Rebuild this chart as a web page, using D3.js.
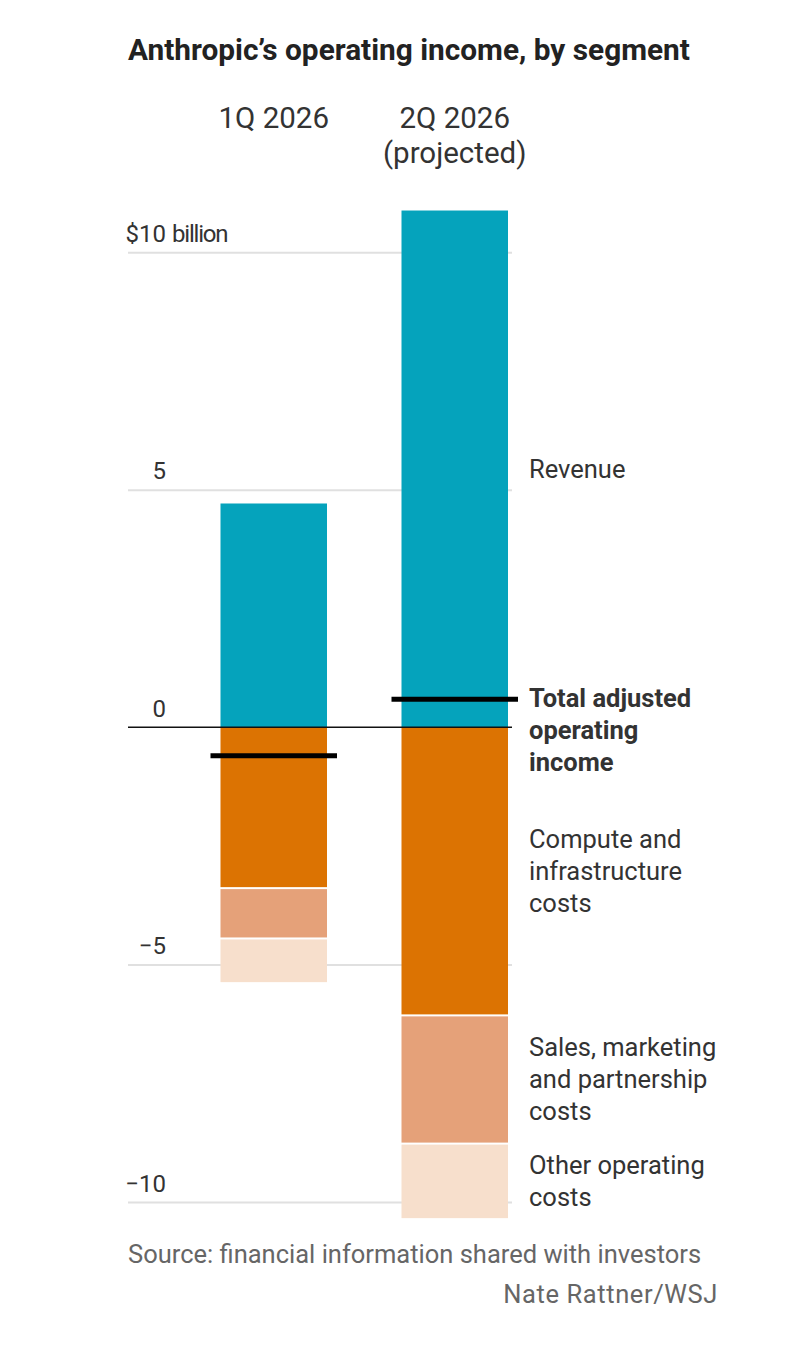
<!DOCTYPE html>
<html>
<head>
<meta charset="utf-8">
<script src="https://cdn.jsdelivr.net/npm/d3@7"></script>
<style>
    body { margin: 0; background: #fff; }
    text { font-family: Roboto, "Noto Sans", sans-serif; fill: #333; }
</style>
</head>
<body>
<script>
// values in $ billions
let quarters = ["1Q 2026", "2Q 2026"];
let quarterSub = ["", "(projected)"];
let revenue = [4.71, 10.88];
let computeCosts = [3.39, 6.07];
let salesCosts = [1.06, 2.70];
let otherCosts = [0.92, 1.57];
let adjOperatingIncome = [-0.60, 0.59];
let tickValues = [10, 5, 0, -5, -10];

let segLabels = [
    ["Revenue"],
    ["Compute and", "infrastructure", "costs"],
    ["Sales, marketing", "and partnership", "costs"],
    ["Other operating", "costs"]
];
let incomeLabel = ["Total adjusted", "operating", "income"];
let colors = ["#05a3bc", "#dc7302", "#e5a179", "#f7dfcc"];

let svg = d3
    .select("body")
    .append("svg")
    .attr("width", 786)
    .attr("height", 1348);

let y = d3.scaleLinear().domain([-10, 10]).range([1202, 252.3]);
let x = d3.scaleBand().domain(quarters).range([220.5, 508]).paddingInner(0.4116).paddingOuter(0);

let plotLeft = 128, plotRight = 512;

// title
svg.append("text")
    .attr("x", 128)
    .attr("y", 60)
    .attr("font-size", 29.8)
    .attr("font-weight", 700)
    .style("fill", "#222")
    .text("Anthropic\u2019s operating income, by segment");

// column headers
quarters.forEach((q, i) => {
    let cx = x(q) + x.bandwidth() / 2;
    svg.append("text")
        .attr("x", cx)
        .attr("y", 128)
        .attr("text-anchor", "middle")
        .attr("font-size", 29.5)
        .text(q);
    if (quarterSub[i]) {
        svg.append("text")
            .attr("x", cx)
            .attr("y", 163)
            .attr("text-anchor", "middle")
            .attr("font-size", 29.5)
            .text(quarterSub[i]);
    }
});

// gridlines + tick labels
let axis = d3.axisRight(y)
    .tickValues(tickValues)
    .tickSize(plotRight - plotLeft)
    .tickFormat((d) => (d < 0 ? "\u2212" + Math.abs(d) : d === 10 ? "$10" : d));

let gAxis = svg.append("g")
    .attr("transform", `translate(${plotLeft},0)`)
    .call(axis);

gAxis.select(".domain").remove();
gAxis.selectAll(".tick line")
    .attr("stroke", "#e0e0e0")
    .attr("stroke-width", 2)
    .filter((d) => d === 0)
    .remove();
gAxis.selectAll(".tick text")
    .attr("x", 38)
    .attr("dy", -11)
    .attr("text-anchor", "end")
    .attr("font-size", 24)
    .attr("font-family", null)
    .style("fill", "#333");
gAxis.selectAll(".tick")
    .filter((d) => d === 10)
    .append("text")
    .attr("x", 44)
    .attr("dy", -11)
    .attr("font-size", 24)
    .attr("font-family", null)
    .attr("letter-spacing", -1.2)
    .style("fill", "#333")
    .text("billion");

// stacked segments
let gap = 1;
quarters.forEach((q, i) => {
    let segs = [revenue[i], computeCosts[i], salesCosts[i], otherCosts[i]];
    let top = 0;
    segs.forEach((v, j) => {
        let y0, y1;
        if (j === 0) {
            y0 = v; y1 = 0;
        } else {
            y0 = -top; y1 = -(top + v);
            top += v;
        }
        let r0 = y(y0), r1 = y(y1);
        if (j > 1) r0 += gap;
        if (j > 0 && j < 3) r1 -= gap;
        svg.append("rect")
            .attr("x", x(q))
            .attr("y", r0)
            .attr("width", x.bandwidth())
            .attr("height", r1 - r0)
            .attr("fill", colors[j]);
    });
});

// zero line
svg.append("line")
    .attr("x1", plotLeft)
    .attr("x2", plotRight)
    .attr("y1", y(0))
    .attr("y2", y(0))
    .attr("stroke", "#111")
    .attr("stroke-width", 1.5);

// operating income markers
quarters.forEach((q, i) => {
    svg.append("line")
        .attr("x1", x(q) - 10)
        .attr("x2", x(q) + x.bandwidth() + 10)
        .attr("y1", y(adjOperatingIncome[i]))
        .attr("y2", y(adjOperatingIncome[i]))
        .attr("stroke", "#000")
        .attr("stroke-width", 5);
});

// segment labels, centred on the 2Q segments
let lineH = 32;
function multiLine(lines, cy, bold) {
    let t = svg.append("text")
        .attr("x", 529)
        .attr("font-size", 25.5)
        .attr("font-weight", bold ? 700 : 400);
    lines.forEach((l, k) => {
        t.append("tspan")
            .attr("x", 529)
            .attr("y", cy + k * lineH)
            .text(l);
    });
}

let last = quarters.length - 1;
let bounds = [];
let acc = 0;
bounds.push([revenue[last], 0]);
[computeCosts[last], salesCosts[last], otherCosts[last]].forEach((v) => {
    bounds.push([-acc, -(acc + v)]);
    acc += v;
});
bounds.forEach((b, j) => {
    let mid = (y(b[0]) + y(b[1])) / 2;
    let n = segLabels[j].length;
    let firstBase = mid - ((n - 1) * lineH) / 2 + 9;
    multiLine(segLabels[j], firstBase, false);
});
multiLine(incomeLabel, y(adjOperatingIncome[last]) + 8, true);

// source and credit
svg.append("text")
    .attr("x", 128)
    .attr("y", 1263)
    .attr("font-size", 25.5)
    .style("fill", "#666")
    .text("Source: financial information shared with investors");

svg.append("text")
    .attr("x", 718)
    .attr("y", 1303)
    .attr("text-anchor", "end")
    .attr("font-size", 25.5)
    .attr("letter-spacing", 0.6)
    .style("fill", "#666")
    .text("Nate Rattner/WSJ");
</script>
</body>
</html>
